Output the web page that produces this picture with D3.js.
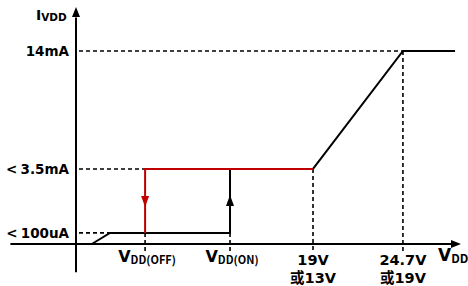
<!DOCTYPE html>
<html>
<head>
  <meta charset="utf-8">
  <title>IVDD vs VDD</title>
  <script src="https://d3js.org/d3.v7.min.js"></script>
  <style>
    body { margin: 0; background: #fff; }
    text { font-family: "DejaVu Sans", "Noto Sans CJK SC", sans-serif; font-weight: bold; fill: #000; }
    .sub { font-family: "Noto Sans CJK SC", "Noto Sans", sans-serif; }
  </style>
</head>
<body>
  <script>
    // abstract units, schematic chart
    const xTicks = [
      { v: 17.9, main: 'V', sub: 'DD(OFF)' },
      { v: 39.9, main: 'V', sub: 'DD(ON)' },
      { v: 61.4, lines: ['19V', '或13V'] },
      { v: 84.7, lines: ['24.7V', '或19V'] }
    ];
    const yLevels = [4.7, 31.8, 81.8];
    const yLabels = ['< 100uA', '< 3.5mA', '14mA'];

    // black supply current path (start-up and normal operation)
    const startup = [[4.1, 0], [8.8, 4.7], [39.9, 4.7], [39.9, 31.8]];
    const highPath = [[61.4, 31.8], [84.7, 81.8], [98.2, 81.8]];
    // red path: UVLO hysteresis
    const redPath = [[61.4, 31.8], [17.9, 31.8], [17.9, 4.7]];

    const W = 468, H = 286;
    const svg = d3.select('body').append('svg')
      .attr('width', W).attr('height', H);

    const x = d3.scaleLinear().domain([0, 100]).range([76, 462]);
    const y = d3.scaleLinear().domain([0, 100]).range([244, 8]);

    const line = d3.line().x(d => x(d[0])).y(d => y(d[1]));

    // dashed guide lines
    const dash = svg.append('g')
      .attr('stroke', '#000').attr('stroke-width', 1.6)
      .attr('stroke-dasharray', '4,3').attr('fill', 'none');

    const hEnds = [8.8, 17.9, 84.7];
    yLevels.forEach((lv, i) => {
      dash.append('line')
        .attr('x1', x(0) + 3).attr('x2', x(hEnds[i]))
        .attr('y1', y(lv)).attr('y2', y(lv));
    });
    const vTops = [4.7, 4.7, 31.8, 81.8];
    xTicks.forEach((t, i) => {
      dash.append('line')
        .attr('x1', x(t.v)).attr('x2', x(t.v))
        .attr('y1', y(vTops[i])).attr('y2', y(0) + 9);
    });

    // axes
    svg.append('line')
      .attr('x1', x(-17)).attr('x2', x(98.5))
      .attr('y1', y(0)).attr('y2', y(0))
      .attr('stroke', '#000').attr('stroke-width', 2);
    svg.append('line')
      .attr('x1', x(0)).attr('x2', x(0))
      .attr('y1', y(-12)).attr('y2', y(96))
      .attr('stroke', '#000').attr('stroke-width', 2);
    svg.append('path')
      .attr('d', `M${x(100) - 1},${y(0)} l-10,-4 l0,8 z`).attr('fill', '#000');
    svg.append('path')
      .attr('d', `M${x(0)},${y(100) - 1} l-4,10 l8,0 z`).attr('fill', '#000');

    // curves
    svg.append('path').datum(startup).attr('d', line)
      .attr('fill', 'none').attr('stroke', '#000').attr('stroke-width', 2);
    svg.append('path').datum(highPath).attr('d', line)
      .attr('fill', 'none').attr('stroke', '#000').attr('stroke-width', 2);
    svg.append('path').datum(redPath).attr('d', line)
      .attr('fill', 'none').attr('stroke', '#c00000').attr('stroke-width', 2);

    // direction arrows
    const midY = y((yLevels[0] + yLevels[1]) / 2);
    svg.append('path')
      .attr('d', `M${x(17.9)},${midY + 6} l-4,-11 l8,0 z`).attr('fill', '#c00000');
    svg.append('path')
      .attr('d', `M${x(39.9)},${midY - 6} l-4,11 l8,0 z`).attr('fill', '#000');

    // y labels
    yLevels.forEach((lv, i) => {
      svg.append('text')
        .attr('x', 69).attr('y', y(lv) + 5)
        .attr('text-anchor', 'end').attr('font-size', 13.5)
        .attr('word-spacing', -1.5)
        .text(yLabels[i]);
    });

    // x labels
    xTicks.forEach(t => {
      if (t.lines) {
        t.lines.forEach((s, j) => {
          svg.append('text')
            .attr('x', x(t.v)).attr('y', 265 + j * 18)
            .attr('text-anchor', 'middle').attr('font-size', 14.5)
            .text(s);
        });
      } else {
        const tx = svg.append('text')
          .attr('x', x(t.v) + 2).attr('y', 262)
          .attr('text-anchor', 'middle').attr('font-size', 16);
        tx.append('tspan').text(t.main);
        tx.append('tspan').attr('class', 'sub')
          .attr('font-size', 11).attr('dy', 2).text(t.sub);
      }
    });

    // axis titles
    const yt = svg.append('text').attr('x', 36).attr('y', 20).attr('font-size', 14);
    yt.append('tspan').text('I');
    yt.append('tspan').attr('font-size', 10.5).attr('dy', 1).text('VDD');

    const xt = svg.append('text').attr('x', 438).attr('y', 261).attr('font-size', 17);
    xt.append('tspan').text('V');
    xt.append('tspan').attr('class', 'sub').attr('font-size', 12).attr('dy', 2).text('DD');
  </script>
</body>
</html>
